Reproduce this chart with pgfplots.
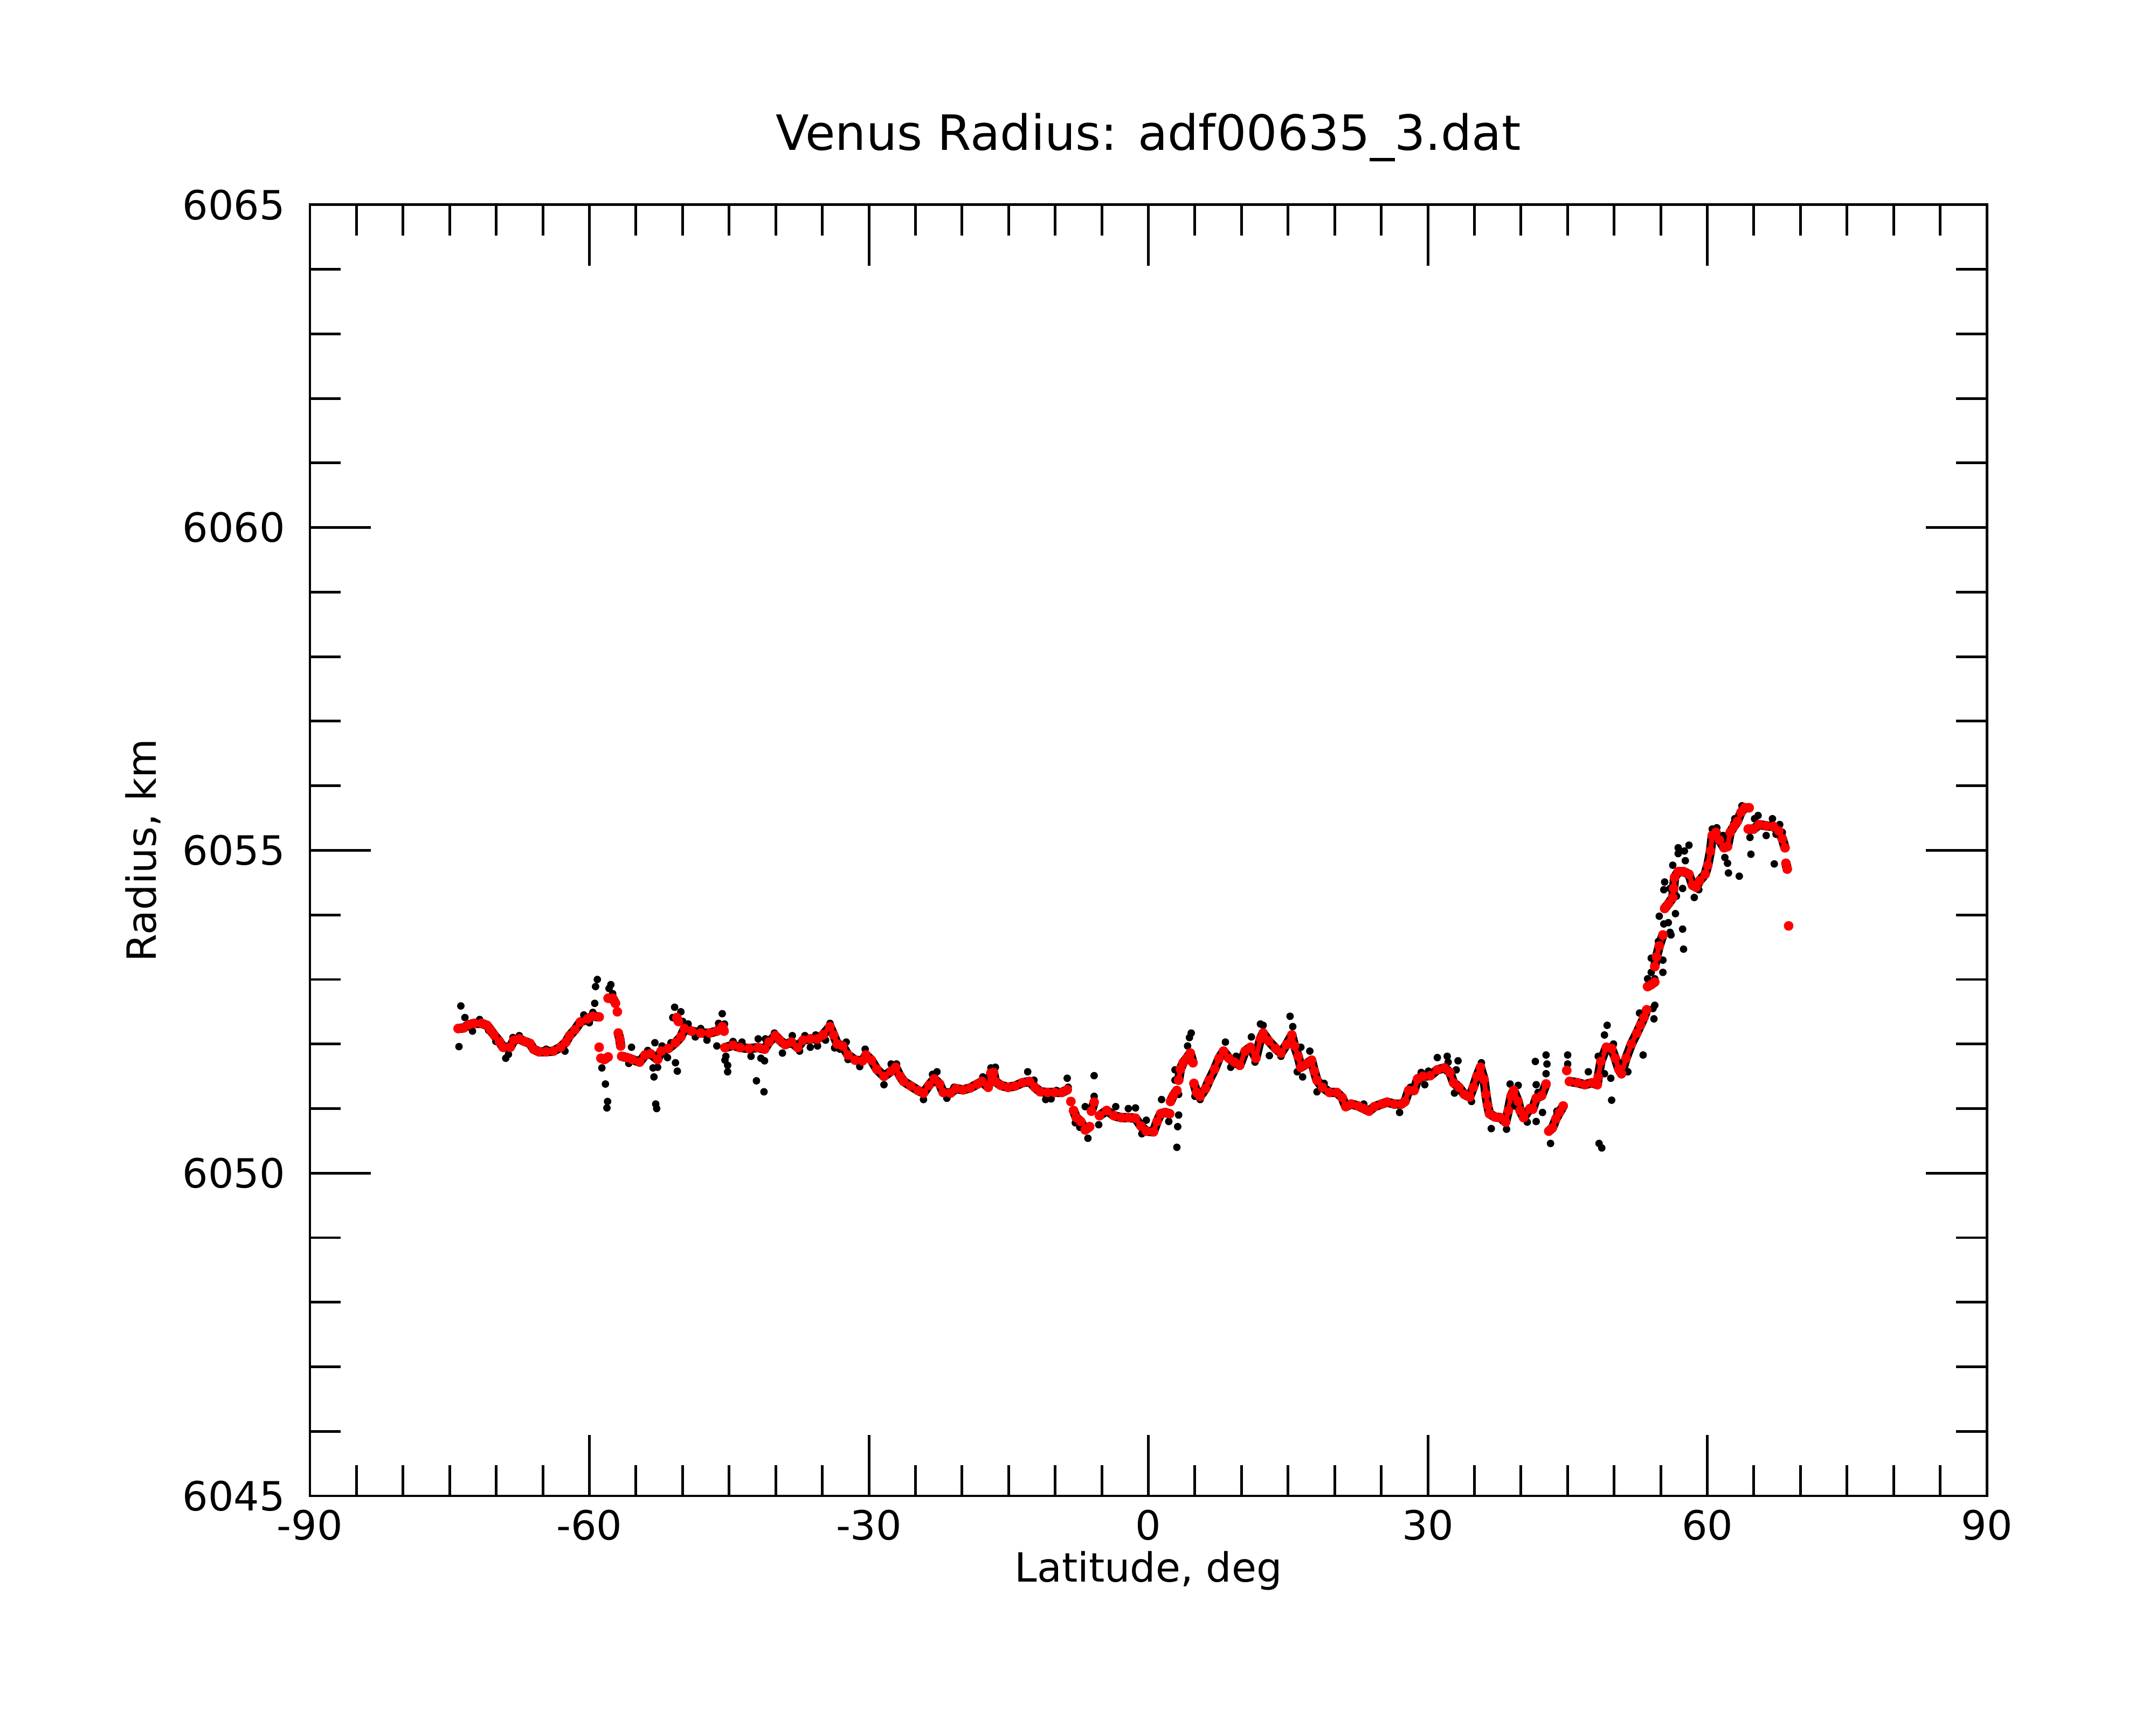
\documentclass[border=0pt]{standalone}
\usepackage{pgfplots}
\pgfplotsset{compat=1.18}
\usepackage{pgfplotstable}
\usepackage{fontspec}
\setmainfont{DejaVu Sans}

\pgfplotstableread{
lat r
-74.09 6052.24
-73.5 6052.25
-72.93 6052.30
-72.36 6052.32
-71.58 6052.32
-71.0 6052.29
-70.62 6052.22
-70.23 6052.14
-69.66 6052.04
-69.27 6051.95
-68.5 6051.95
-68.11 6052.06
-67.53 6052.08
-66.96 6052.04
-66.38 6052.01
-65.99 6051.92
-65.41 6051.88
-64.64 6051.88
-63.87 6051.89
-63.1 6051.95
-62.52 6052.03
-62.13 6052.13
-61.56 6052.22
-60.98 6052.34
-60.2 6052.39
-59.63 6052.43
-58.95 6052.42
nan nan
-58.95 6051.95
nan nan
-58.76 6051.78
-58.4 6051.76
-57.99 6051.80
nan nan
-57.99 6052.71
-57.5 6052.71
-57.2 6052.63
nan nan
-57.0 6052.50
nan nan
-56.9 6052.17
-56.73 6052.07
-56.64 6051.97
nan nan
-56.54 6051.81
-55.96 6051.79
-55.38 6051.76
-54.61 6051.72
-54.03 6051.83
-53.45 6051.85
-52.68 6051.76
-52.3 6051.89
-51.53 6051.93
-50.76 6052.02
-50.18 6052.11
-49.79 6052.24
-49.02 6052.20
-48.05 6052.17
-47.09 6052.17
-46.32 6052.20
-45.74 6052.27
-45.54 6052.20
nan nan
-45.45 6051.945
-44.58 6051.98
-43.81 6051.945
-42.84 6051.93
-41.88 6051.945
-41.2 6051.92
-40.72 6052.03
-40.05 6052.13
-39.57 6052.06
-38.99 6051.99
-38.31 6052.03
-37.64 6051.945
-37.06 6052.06
-36.29 6052.08
-35.51 6052.08
-34.94 6052.14
-34.17 6052.27
-33.78 6052.14
-33.39 6052.00
-32.82 6051.97
-32.24 6051.83
-31.46 6051.75
-30.69 6051.74
-30.31 6051.83
-29.73 6051.75
-29.15 6051.61
-28.38 6051.50
-27.61 6051.58
-27.13 6051.64
-26.64 6051.50
-26.26 6051.42
-25.49 6051.35
-24.71 6051.28
-24.14 6051.24
-23.56 6051.36
-22.98 6051.46
-22.4 6051.38
-22.02 6051.25
-21.24 6051.24
-20.66 6051.31
-19.89 6051.29
-19.12 6051.32
-18.35 6051.38
-17.87 6051.42
-17.19 6051.33
-16.9 6051.55
-16.62 6051.56
-16.42 6051.42
-15.84 6051.36
-15.07 6051.33
-14.3 6051.35
-13.53 6051.40
-12.76 6051.42
-12.18 6051.33
-11.6 6051.26
-10.83 6051.25
-10.06 6051.25
-9.29 6051.25
-8.71 6051.29
nan nan
-8.32 6051.11
nan nan
-8.03 6050.97
-7.74 6050.86
-7.26 6050.80
-6.78 6050.67
-6.3 6050.72
nan nan
-6.11 6050.96
-5.82 6051.10
nan nan
-5.24 6050.89
-4.47 6050.97
-3.69 6050.89
-2.92 6050.86
-2.15 6050.86
-1.38 6050.85
-0.8 6050.73
-0.22 6050.65
0.55 6050.64
0.94 6050.80
1.32 6050.92
1.8 6050.94
2.29 6050.92
nan nan
2.38 6051.11
2.67 6051.20
3.06 6051.28
nan nan
3.25 6051.44
3.44 6051.61
3.73 6051.71
4.12 6051.78
4.5 6051.86
4.79 6051.71
nan nan
4.89 6051.39
5.18 6051.25
5.56 6051.19
6.14 6051.31
6.53 6051.44
7.11 6051.61
7.59 6051.78
8.07 6051.89
8.65 6051.78
9.23 6051.72
9.81 6051.67
10.39 6051.89
10.96 6051.95
11.54 6051.78
12.03 6052.08
12.32 6052.17
12.9 6052.05
13.67 6051.93
14.24 6051.86
14.82 6051.99
15.4 6052.14
15.69 6051.97
16.08 6051.81
16.37 6051.64
16.94 6051.69
17.52 6051.75
17.81 6051.58
18.1 6051.44
18.68 6051.33
19.45 6051.25
20.22 6051.25
20.8 6051.17
21.19 6051.03
21.77 6051.07
22.54 6051.04
23.12 6051.00
23.69 6050.96
24.27 6051.03
25.04 6051.07
25.62 6051.10
26.39 6051.07
27.17 6051.07
27.55 6051.11
27.94 6051.28
28.52 6051.28
28.9 6051.46
29.48 6051.50
30.25 6051.51
31.02 6051.60
31.79 6051.63
32.37 6051.56
32.76 6051.40
33.34 6051.33
33.92 6051.22
34.49 6051.18
34.88 6051.33
35.27 6051.50
35.65 6051.64
36.04 6051.45
36.23 6051.22
36.42 6051.05
36.62 6050.92
37.2 6050.87
37.77 6050.86
38.35 6050.79
38.64 6050.97
38.93 6051.19
39.22 6051.28
39.7 6051.11
39.9 6050.97
40.28 6050.86
40.96 6051.00
41.25 6050.99
41.63 6051.16
42.21 6051.20
42.69 6051.38
nan nan
42.98 6050.65
43.37 6050.70
43.75 6050.84
44.14 6050.94
44.53 6051.04
nan nan
44.91 6051.59
nan nan
45.2 6051.42
46.07 6051.40
46.84 6051.37
47.61 6051.40
48.19 6051.37
48.29 6051.49
48.58 6051.73
49.16 6051.95
49.73 6051.93
50.12 6051.78
50.5 6051.61
50.79 6051.54
51.28 6051.78
51.85 6052.00
52.43 6052.17
52.82 6052.29
53.2 6052.41
53.49 6052.53
nan nan
53.59 6052.89
53.98 6052.92
54.36 6052.96
nan nan
54.36 6053.20
54.55 6053.35
54.84 6053.52
55.23 6053.69
nan nan
55.42 6054.10
55.81 6054.17
56.29 6054.27
56.39 6054.41
56.48 6054.58
56.87 6054.67
57.45 6054.67
58.03 6054.63
58.41 6054.46
58.8 6054.43
59.18 6054.53
59.76 6054.63
60.05 6054.77
60.34 6054.99
60.53 6055.23
60.92 6055.28
61.3 6055.16
61.79 6055.04
62.17 6055.06
62.46 6055.28
62.85 6055.37
63.23 6055.45
63.62 6055.59
64.0 6055.66
64.49 6055.66
nan nan
64.39 6055.33
64.97 6055.33
65.55 6055.40
66.32 6055.38
67.09 6055.37
67.67 6055.30
68.05 6055.18
68.34 6055.04
nan nan
68.44 6054.80
68.58 6054.71
nan nan
68.73 6053.83
nan nan
-50.62 6052.41
-50.45 6052.35
}\redtab

\pgfplotstableread{
lat r
-73.8 6052.59
-74.0 6051.96
-73.36 6052.41
-72.55 6052.20
-71.78 6052.38
-70.81 6052.21
-70.04 6052.04
-68.98 6051.78
-68.69 6051.84
-68.21 6052.10
-67.53 6052.13
-64.64 6051.92
-62.62 6051.89
-60.6 6052.45
-60.01 6052.33
-59.63 6052.49
-59.43 6052.63
-59.34 6052.89
-59.15 6053.00
-58.66 6051.63
-58.28 6051.38
-58.05 6051.11
-58.12 6051.01
-57.89 6052.86
-57.7 6052.92
-57.5 6052.78
-55.48 6051.95
-55.77 6051.70
-53.74 6051.90
-53.17 6051.63
-53.07 6051.49
-52.97 6052.02
-52.88 6051.07
-52.78 6051.00
-52.68 6051.64
-52.2 6051.97
-51.62 6051.79
-51.24 6052.02
-50.85 6052.57
-50.76 6051.71
-50.56 6051.58
-51.05 6052.41
-50.18 6052.50
-49.98 6052.35
-49.4 6052.31
-48.63 6052.11
-48.05 6052.24
-47.38 6052.06
-46.32 6051.97
-46.13 6052.32
-45.74 6052.47
-45.5 6052.31
-45.35 6051.81
-45.45 6051.75
-45.16 6051.67
-45.16 6051.57
-44.58 6052.04
-43.62 6052.03
-42.65 6051.81
-42.07 6051.43
-41.88 6052.08
-41.59 6051.78
-41.2 6051.74
-41.26 6051.26
-41.11 6052.08
-40.14 6052.17
-39.28 6051.86
-38.22 6052.13
-37.44 6051.89
-36.87 6052.13
-36.29 6051.95
-35.71 6052.14
-35.51 6051.97
-34.65 6052.06
-34.17 6052.32
-33.68 6051.94
-33.1 6051.92
-32.43 6052.03
-32.24 6051.76
-30.98 6051.65
-30.4 6051.92
-28.38 6051.37
-27.61 6051.69
-27.03 6051.69
-24.14 6051.14
-23.17 6051.53
-22.69 6051.57
-21.63 6051.16
-20.86 6051.33
-17.77 6051.49
-16.9 6051.63
-16.42 6051.64
-12.95 6051.57
-12.28 6051.44
-11.02 6051.14
-10.44 6051.15
-9.87 6051.28
-8.71 6051.47
-8.61 6051.33
-7.84 6050.78
-7.36 6050.71
-6.78 6051.03
-6.49 6050.54
-5.82 6051.51
-5.82 6051.19
-5.33 6050.75
-3.5 6051.03
-2.15 6051.00
-1.38 6051.01
-0.7 6050.61
-0.22 6050.82
1.42 6051.14
2.19 6050.80
2.86 6051.60
2.86 6051.44
3.25 6050.90
3.15 6050.72
3.06 6050.40
3.25 6051.22
4.21 6051.97
4.41 6052.10
4.6 6052.17
5.0 6051.19
5.56 6051.14
8.27 6052.03
8.84 6051.64
9.42 6051.81
11.06 6052.11
11.45 6051.72
12.03 6052.31
12.32 6052.29
15.21 6052.43
15.5 6052.27
12.99 6051.82
14.24 6051.81
16.37 6051.95
17.33 6051.89
15.98 6051.57
16.56 6051.49
18.87 6051.39
18.1 6051.26
23.12 6051.07
26.97 6050.94
28.13 6051.33
29.29 6051.56
29.67 6051.37
30.06 6051.58
31.02 6051.79
32.08 6051.81
32.18 6051.72
33.24 6051.74
33.05 6051.60
32.86 6051.24
34.69 6051.11
35.75 6051.71
36.81 6050.69
38.45 6050.68
38.83 6051.38
39.31 6051.04
39.7 6051.36
40.67 6050.79
41.54 6051.73
42.69 6051.83
42.79 6051.69
42.69 6051.54
41.63 6051.37
41.83 6051.25
42.31 6050.94
41.63 6050.80
43.17 6050.46
43.85 6050.96
45.01 6051.83
45.01 6051.69
47.23 6051.57
48.67 6050.39
48.38 6050.46
48.96 6051.54
49.64 6051.47
49.73 6051.13
48.29 6051.81
48.96 6052.14
49.25 6052.29
49.93 6052.00
51.47 6051.57
53.11 6051.83
52.72 6052.48
54.27 6052.39
54.36 6052.60
54.17 6052.55
53.59 6053.01
54.36 6053.01
53.98 6053.11
55.23 6053.11
55.23 6053.30
54.75 6053.59
53.98 6053.33
55.33 6053.86
56.0 6053.73
56.1 6053.69
54.84 6053.98
55.81 6053.88
57.35 6053.78
57.45 6053.47
56.58 6054.02
55.33 6054.39
55.42 6054.51
56.0 6054.41
56.68 6054.29
56.29 6054.77
56.87 6055.04
56.87 6054.95
57.54 6054.99
58.03 6055.08
57.64 6054.84
57.35 6054.41
58.6 6054.27
59.09 6054.39
60.53 6055.33
61.02 6055.35
61.69 6055.23
61.88 6054.89
62.17 6054.80
62.27 6054.65
63.43 6054.60
62.85 6055.42
62.95 6055.49
63.72 6055.69
64.58 6055.20
64.68 6054.94
65.07 6055.49
65.45 6055.54
66.32 6055.23
66.99 6055.49
67.19 6054.79
67.38 6055.25
67.77 6055.40
68.05 6055.28
}\blacktab

\begin{document}
\begin{tikzpicture}
\path[use as bounding box] (-1.4375in,-1.0625in) rectangle (8.5625in,6.9375in);
\begin{axis}[
  scale only axis,
  width=7.7775in, height=5.9875in,
  xmin=-90, xmax=90, ymin=6045, ymax=6065,
  xtick={-90,-60,-30,0,30,60,90},
  xticklabels={-90,-60,-30,0,30,60,90},
  ytick={6045,6050,6055,6060,6065},
  yticklabels={6045,6050,6055,6060,6065},
  minor x tick num=5, minor y tick num=4,
  tick align=inside, tick pos=both,
  major tick length=0.2825in, minor tick length=0.1425in,
  axis line style={line width=0.9pt},
  every tick/.style={line width=0.9pt, black},
  unbounded coords=jump,
  tick label style={font=\fontsize{13.5}{16}\selectfont},
  xticklabel style={anchor=base, yshift=-14.8pt},
  yticklabel style={anchor=east, inner sep=0pt, xshift=-8.1pt},
  label style={font=\fontsize{13.5}{16}\selectfont},
  xlabel={Latitude, deg},
  ylabel={Radius, km},
  xlabel style={at={(axis description cs:0.5,-0.0668)}, anchor=base},
  ylabel style={at={(axis description cs:-0.0996,0.5)}, anchor=center},
  title={Venus Radius: adf00635\_3.dat},
  title style={at={(axis description cs:0.5,1.0284)}, anchor=base, font=\fontsize{16.3}{19}\selectfont},
]
\addplot[black, line width=3.1pt, line join=round, line cap=round, no marks] table[x=lat, y=r] {\redtab};
\addplot[only marks, mark=*, mark size=1.05pt, mark options={draw=none, fill=black}] table[x=lat, y=r] {\blacktab};
\addplot[red, line width=1.6pt, line join=round, line cap=round, mark=*, mark size=0.85pt, mark options={draw=none, fill=red}] table[x=lat, y=r] {\redtab};
\end{axis}
\end{tikzpicture}
\end{document}
